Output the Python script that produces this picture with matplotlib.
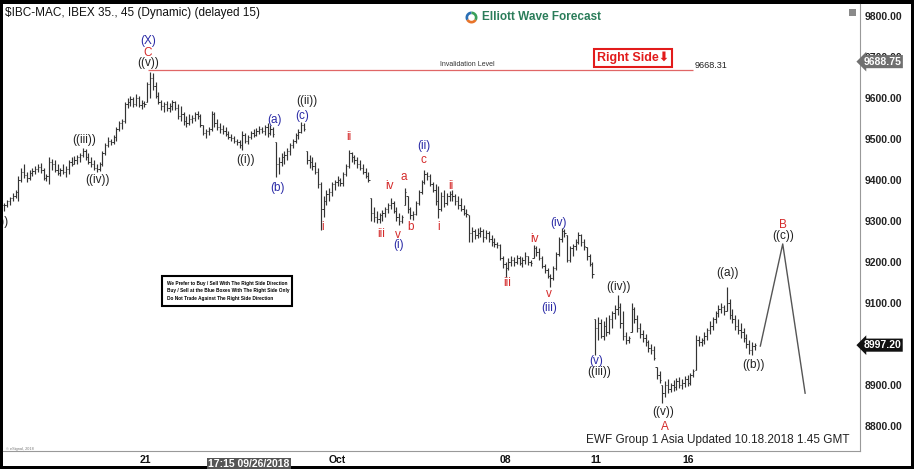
import numpy as np
import matplotlib.pyplot as plt
from matplotlib.patches import Rectangle
from matplotlib.transforms import blended_transform_factory

plt.rcParams['font.family'] = ['Liberation Sans', 'DejaVu Sans']

# 45 min bars: high, low, close
bar_high = [9345, 9352, 9358, 9368, 9375, 9410, 9430, 9440, 9420, 9425,
            9430, 9435, 9440, 9442, 9430, 9415, 9455, 9452, 9448, 9440,
            9430, 9440, 9435, 9450, 9455, 9458, 9460, 9465, 9478, 9475,
            9465, 9455, 9448, 9440, 9445, 9470, 9490, 9505, 9500, 9510,
            9530, 9545, 9550, 9590, 9600, 9605, 9602, 9610, 9605, 9595,
            9592, 9640, 9663, 9660, 9640, 9615, 9595, 9590, 9592, 9588,
            9595, 9592, 9585, 9580, 9565, 9555, 9560, 9558, 9565, 9568,
            9560, 9535, 9525, 9530, 9568, 9565, 9550, 9540, 9535, 9530,
            9520, 9512, 9508, 9500, 9497, 9520, 9515, 9510, 9520, 9525,
            9528, 9532, 9530, 9535, 9540, 9535, 9530, 9493, 9455, 9465,
            9470, 9478, 9490, 9500, 9515, 9525, 9541, 9538, 9470, 9460,
            9455, 9445, 9430, 9395, 9360, 9375, 9380, 9395, 9400, 9410,
            9405, 9420, 9440, 9473, 9468, 9462, 9455, 9448, 9440, 9430,
            9420, 9356, 9335, 9325, 9320, 9328, 9335, 9345, 9356, 9350,
            9335, 9320, 9315, 9380, 9360, 9335, 9325, 9350, 9375, 9400,
            9424, 9420, 9415, 9395, 9390, 9385, 9370, 9375, 9368, 9372,
            9375, 9365, 9360, 9355, 9340, 9330, 9315, 9285, 9280, 9282,
            9285, 9280, 9278, 9275, 9265, 9258, 9250, 9245, 9215, 9200,
            9210, 9215, 9212, 9218, 9215, 9212, 9225, 9215, 9205, 9241,
            9240, 9235, 9215, 9195, 9185, 9170, 9190, 9225, 9260, 9283,
            9280, 9265, 9240, 9245, 9255, 9273, 9268, 9255, 9237, 9220,
            9200, 9060, 9065, 9060, 9055, 9065, 9070, 9080, 9095, 9120,
            9100, 9080, 9030, 9020, 9100, 9090, 9070, 9050, 9035, 9025,
            9010, 9000, 8995, 8945, 8935, 8900, 8910, 8915, 8905, 8912,
            8918, 8920, 8915, 8922, 8925, 8930, 8940, 9022, 9020, 9015,
            9030, 9040, 9055, 9065, 9080, 9095, 9100, 9095, 9139, 9110,
            9085, 9070, 9060, 9050, 9040, 9025, 9010, 9005, 9002]
bar_low = [9325, 9335, 9340, 9350, 9355, 9350, 9395, 9405, 9395, 9400,
           9410, 9415, 9420, 9418, 9400, 9398, 9390, 9425, 9420, 9412,
           9410, 9415, 9408, 9415, 9435, 9438, 9440, 9445, 9455, 9450,
           9440, 9432, 9425, 9420, 9422, 9435, 9460, 9480, 9485, 9488,
           9495, 9520, 9525, 9540, 9575, 9580, 9578, 9580, 9578, 9572,
           9578, 9590, 9600, 9620, 9600, 9585, 9570, 9565, 9568, 9565,
           9570, 9570, 9550, 9545, 9535, 9530, 9535, 9540, 9545, 9548,
           9530, 9510, 9502, 9510, 9520, 9530, 9522, 9515, 9512, 9508,
           9500, 9495, 9490, 9485, 9478, 9473, 9490, 9488, 9500, 9505,
           9508, 9512, 9515, 9510, 9505, 9510, 9505, 9407, 9415, 9435,
           9440, 9450, 9462, 9478, 9490, 9500, 9515, 9520, 9440, 9430,
           9425, 9415, 9380, 9278, 9310, 9340, 9350, 9360, 9375, 9385,
           9385, 9385, 9410, 9430, 9445, 9440, 9430, 9425, 9415, 9405,
           9395, 9300, 9298, 9295, 9296, 9300, 9310, 9320, 9330, 9320,
           9300, 9290, 9295, 9340, 9320, 9305, 9302, 9315, 9340, 9365,
           9390, 9400, 9385, 9370, 9340, 9307, 9325, 9335, 9340, 9348,
           9350, 9340, 9330, 9325, 9315, 9310, 9250, 9250, 9255, 9258,
           9262, 9250, 9255, 9250, 9240, 9237, 9235, 9205, 9185, 9163,
           9180, 9190, 9190, 9195, 9192, 9188, 9195, 9192, 9190, 9210,
           9215, 9205, 9185, 9172, 9160, 9139, 9155, 9180, 9215, 9250,
           9262, 9200, 9200, 9215, 9230, 9245, 9240, 9230, 9205, 9190,
           9161, 8973, 9010, 9015, 9010, 9020, 9025, 9040, 9060, 9070,
           9040, 9010, 9000, 9002, 9030, 9050, 9030, 9015, 9005, 8995,
           8980, 8975, 8960, 8915, 8905, 8856, 8870, 8880, 8882, 8885,
           8888, 8892, 8890, 8895, 8898, 8900, 8920, 8937, 8995, 8995,
           9000, 9010, 9025, 9035, 9050, 9065, 9075, 9070, 9080, 9060,
           9050, 9035, 9025, 9015, 9005, 8990, 8975, 8973, 8985]
bar_close = [9338, 9348, 9355, 9362, 9370, 9400, 9420, 9412, 9405, 9418,
             9422, 9428, 9432, 9425, 9405, 9410, 9445, 9440, 9425, 9418,
             9425, 9420, 9428, 9445, 9440, 9450, 9455, 9460, 9470, 9455,
             9445, 9438, 9430, 9428, 9440, 9465, 9485, 9495, 9492, 9505,
             9525, 9538, 9545, 9585, 9590, 9598, 9585, 9600, 9582, 9588,
             9585, 9635, 9650, 9630, 9605, 9590, 9580, 9585, 9575, 9580,
             9590, 9575, 9555, 9560, 9545, 9540, 9550, 9552, 9560, 9555,
             9535, 9515, 9520, 9525, 9560, 9540, 9530, 9525, 9520, 9512,
             9505, 9502, 9495, 9492, 9485, 9510, 9495, 9505, 9515, 9510,
             9520, 9525, 9520, 9530, 9515, 9525, 9512, 9440, 9445, 9455,
             9462, 9470, 9485, 9495, 9510, 9518, 9535, 9525, 9450, 9445,
             9435, 9420, 9390, 9330, 9350, 9365, 9370, 9390, 9395, 9400,
             9392, 9415, 9435, 9465, 9455, 9448, 9440, 9430, 9420, 9410,
             9400, 9320, 9310, 9305, 9315, 9320, 9330, 9340, 9345, 9325,
             9310, 9300, 9310, 9370, 9330, 9315, 9318, 9345, 9370, 9395,
             9415, 9410, 9390, 9375, 9350, 9330, 9360, 9345, 9360, 9365,
             9360, 9350, 9340, 9330, 9320, 9318, 9270, 9275, 9265, 9270,
             9275, 9260, 9270, 9255, 9250, 9245, 9242, 9210, 9195, 9185,
             9200, 9205, 9200, 9210, 9198, 9205, 9215, 9200, 9198, 9235,
             9225, 9210, 9190, 9180, 9165, 9160, 9185, 9220, 9255, 9275,
             9270, 9205, 9235, 9240, 9250, 9265, 9250, 9238, 9215, 9195,
             9170, 9040, 9050, 9020, 9045, 9030, 9060, 9075, 9085, 9090,
             9050, 9020, 9010, 9015, 9085, 9060, 9040, 9025, 9015, 9005,
             8990, 8985, 8965, 8925, 8912, 8880, 8900, 8890, 8900, 8895,
             8910, 8900, 8905, 8915, 8905, 8925, 8935, 9010, 9005, 9010,
             9020, 9035, 9045, 9060, 9075, 9085, 9090, 9080, 9100, 9070,
             9060, 9045, 9035, 9030, 9015, 9000, 8985, 8995, 8997]

# projected path after last bar: bar index, price
proj_x = [270, 278, 286]
proj_y = [8995, 9244, 8880]

# wave labels: text, bar index, price, colour key
wave_text = ['(X)', 'C', '((v))', '((iii))', '((iv))', '((i))', '(a)', '(b)', '(c)', '((ii))',
             'i', 'ii', 'iii', 'iv', 'v', '(i)', 'a', 'b', 'c', '(ii)', 'i', 'ii',
             'iii', 'iv', 'v', '(iii)', '(iv)', '(v)', '((iii))', '((iv))', '((v))', 'A',
             '((a))', '((b))', 'B', '((c))']
wave_x = [51.3, 51.3, 51.3, 28.4, 33.1, 86, 96.6, 97.4, 106.3, 108,
          113.8, 123.1, 134.5, 137.7, 140.6, 140.9, 142.7, 145.2, 149.5, 149.9, 154.9, 159.5,
          179.5, 189.5, 194.5, 194.5, 198, 211.5, 212.3, 219.5, 235.2, 235.9,
          258.4, 267.7, 278, 278]
wave_y = [9739, 9710, 9685, 9498, 9400, 9449, 9546, 9380, 9556, 9593,
          9285, 9505, 9268, 9385, 9266, 9241, 9407, 9285, 9449, 9483, 9285, 9385,
          9149, 9256, 9122, 9088, 9295, 8959, 8932, 9139, 8834, 8798,
          9173, 8949, 9290, 9263]
wave_col = ['b', 'r', 'k', 'k', 'k', 'k', 'b', 'b', 'b', 'k',
            'r', 'r', 'r', 'r', 'r', 'b', 'r', 'r', 'r', 'b', 'r', 'r',
            'r', 'r', 'r', 'b', 'b', 'b', 'k', 'k', 'k', 'r',
            'k', 'k', 'r', 'k']
colors = {'k': '#222222', 'b': '#2a2aa6', 'r': '#d42a2a'}

invalidation = 9668.31
last_price = 8997.20
tag_price = 9688.75
y_ticks = [8800, 8900, 9000, 9100, 9200, 9300, 9400, 9500, 9600, 9700, 9800]
x_tick_pos = [50.4, 118.8, 179.1, 211.3, 244.1]
x_tick_lab = ['21', 'Oct', '08', '11', '16']

W, H = 914, 469
fig = plt.figure(figsize=(W / 100, H / 100), dpi=100)
fig.patch.set_facecolor('black')
fig.add_artist(Rectangle((3 / W, 3 / H), 908 / W, 462 / H, transform=fig.transFigure,
                         facecolor='white', edgecolor='none', zorder=0))

ax = fig.add_axes([3 / W, (H - 451) / H, 857 / W, 447 / H])
ax.set_facecolor('white')
ax.set_xlim(-0.5, 305.6)
ax.set_ylim(8739, 9829.3)
for s in ['top', 'left']:
    ax.spines[s].set_visible(False)
ax.spines['right'].set_color('#999999')
ax.spines['bottom'].set_color('#999999')
ax.spines['right'].set_linewidth(0.8)
ax.spines['bottom'].set_linewidth(0.8)

n = len(bar_close)
xs = np.arange(n)
hi = np.array(bar_high, float)
lo = np.array(bar_low, float)
cl = np.array(bar_close, float)
op = np.clip(np.r_[cl[0], cl[:-1]], lo, hi)
ax.vlines(xs, lo, hi, color='#333333', lw=0.85)
ax.hlines(op, xs - 0.45, xs, color='#333333', lw=0.7)
ax.hlines(cl, xs, xs + 0.45, color='#333333', lw=0.7)

ax.plot(proj_x, proj_y, color='#555555', lw=1.0)

# invalidation level
ax.hlines(invalidation, 51.3, 246, color='#e06666', lw=0.9)
ax.text(165.5, invalidation + 5, 'Invalidation Level', fontsize=5, color='#333333',
        ha='center', va='bottom')
ax.text(246.5, invalidation, f'{invalidation:.2f}', fontsize=6.5, color='#222222',
        ha='left', va='bottom')

for t, x, y, c in zip(wave_text, wave_x, wave_y, wave_col):
    ax.text(x, y, t, color=colors[c], fontsize=8.5, ha='center', va='center')
# label cut by the left edge, as in the source
ax.text(1.6, 9298, '((ii))', color=colors['k'], fontsize=8.5, ha='right', va='center',
        clip_on=True)

# y axis on the right
ax.yaxis.tick_right()
ax.set_yticks(y_ticks)
ax.set_yticklabels([f'{v:.2f}' for v in y_ticks], fontsize=7.5, fontweight='bold',
                   color='#222222')
ax.tick_params(axis='y', length=0, pad=3)
ax.set_xticks(x_tick_pos)
ax.set_xticklabels(x_tick_lab, fontsize=7.5, fontweight='bold', color='#111111')
ax.tick_params(axis='x', length=0, pad=3)

tr = blended_transform_factory(ax.transAxes, ax.transData)
ax.text(1.004, tag_price, f'{tag_price:.2f}', transform=tr, fontsize=7.5,
        fontweight='bold', color='white', ha='left', va='center',
        bbox=dict(boxstyle='larrow,pad=0.15', fc='#707070', ec='none'))
ax.text(1.004, last_price, f'{last_price:.2f}', transform=tr, fontsize=7.5,
        fontweight='bold', color='white', ha='left', va='center',
        bbox=dict(boxstyle='larrow,pad=0.15', fc='#111111', ec='none'))
trx = blended_transform_factory(ax.transData, ax.transAxes)
ax.text(87.4, -0.029, '17:15 09/26/2018', transform=trx, fontsize=7.5, fontweight='bold',
        color='white', ha='center', va='center',
        bbox=dict(boxstyle='square,pad=0.12', fc='#555555', ec='none'))

# header texts
fig.text(5 / W, 1 - 13 / H, '$IBC-MAC, IBEX 35., 45 (Dynamic) (delayed 15)',
         fontsize=8.5, color='#111111', ha='left', va='center')
fig.text(482 / W, 1 - 17 / H, 'Elliott Wave Forecast', fontsize=8.5, fontweight='bold',
         color='#2b7d5a', ha='left', va='center')
logo = fig.add_axes([464 / W, 1 - 25 / H, 15 / W, 15 / H])
logo.pie([1, 1, 1], colors=['#2a6fb5', '#e8742a', '#3aa05a'], startangle=90,
         wedgeprops=dict(width=0.45))
logo.set_aspect('equal')
fig.add_artist(Rectangle((849 / W, 1 - 16 / H), 7 / W, 7 / H, transform=fig.transFigure,
                         facecolor='#8a8a8a', edgecolor='none'))

fig.text(633 / W, 1 - 58 / H, 'Right Side\u2b07', fontsize=9, fontweight='bold',
         color='#e21b1b', ha='center', va='center',
         bbox=dict(boxstyle='square,pad=0.25', fc='white', ec='#e21b1b', lw=1.5))

# rule box
fig.add_artist(Rectangle((162 / W, 1 - 306 / H), 130 / W, 30 / H, transform=fig.transFigure,
                         facecolor='white', edgecolor='black', lw=1.5))
rules = ['We Prefer to Buy / Sell With The Right Side Direction',
         'Buy / Sell at the Blue Boxes With The Right Side Only',
         'Do Not Trade Against The Right Side Direction']
for k, r in enumerate(rules):
    fig.text(167 / W, 1 - (283 + 7.5 * k) / H, r, fontsize=3.4, fontweight='bold',
             color='black', ha='left', va='center')

fig.text(850 / W, 1 - 440 / H, 'EWF Group 1 Asia Updated 10.18.2018 1.45 GMT',
         fontsize=8.5, color='#222222', ha='right', va='center')
fig.text(6 / W, 1 - 449 / H, '\u00a9 eSignal, 2018', fontsize=2.8, color='#777777',
         ha='left', va='center')

fig.savefig('out.png', dpi=100, facecolor=fig.get_facecolor())
